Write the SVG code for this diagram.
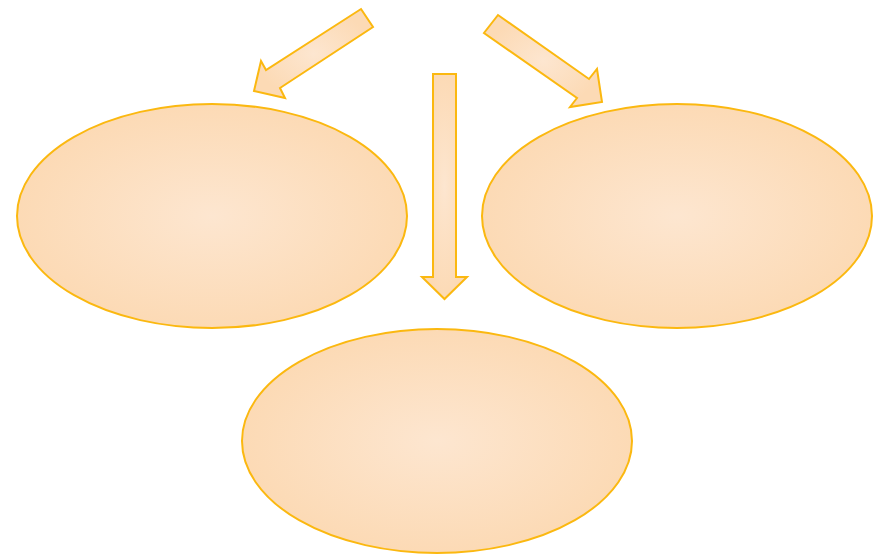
<svg xmlns="http://www.w3.org/2000/svg" width="877" height="554" viewBox="0 0 877 554">
<defs>
<radialGradient id="g" cx="50%" cy="50%" r="50%">
<stop offset="0" stop-color="#fde6d0"/>
<stop offset="1" stop-color="#fcdab5"/>
</radialGradient>
<style>
.n{fill:url(#g);stroke:#fbb810;stroke-width:2}
.a{fill:url(#g);stroke:#fbb810;stroke-width:2;stroke-linejoin:miter}
</style>
</defs>
<rect width="877" height="554" fill="#ffffff"/>
<g id="node-left"><ellipse class="n" cx="212" cy="216" rx="195" ry="112"/></g>
<g id="node-right"><ellipse class="n" cx="677" cy="216" rx="195" ry="112"/></g>
<g id="node-bottom"><ellipse class="n" cx="437" cy="441" rx="195" ry="112"/></g>
<g id="connectors">
<polygon class="a" points="361,9 373,27 280,88 285,98 254,91 261,61 266,70"/>
<polygon class="a" points="498,15 484,33 577,98 570,107 602,102 597,69 589,79"/>
<polygon class="a" points="433,74 456,74 456,277 467,277 444.5,299 422,277 433,277"/>
</g>
</svg>
